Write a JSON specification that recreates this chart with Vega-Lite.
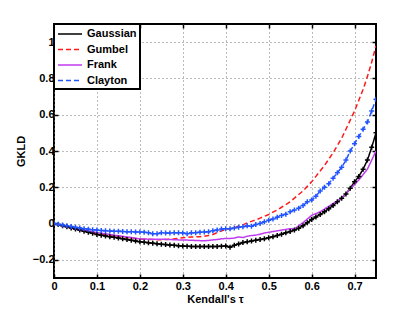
{
  "$schema": "https://vega.github.io/schema/vega-lite/v6.json",
  "width": 322,
  "height": 254,
  "autosize": {"type": "none"},
  "padding": {"left": 54, "top": 24, "right": 39, "bottom": 35},
  "background": "white",
  "config": {
    "font": "Liberation Sans",
    "view": {"stroke": "black", "strokeWidth": 2},
    "axis": {
      "domain": false,
      "labelFont": "Liberation Sans",
      "labelFontWeight": "bold",
      "labelFontSize": 11,
      "labelColor": "black",
      "titleFont": "Liberation Sans",
      "titleFontWeight": "bold",
      "titleFontSize": 11,
      "titleColor": "black",
      "tickColor": "black",
      "tickWidth": 1.5,
      "tickSize": -4,
      "gridColor": "#777777",
      "gridDash": [1, 3],
      "gridOpacity": 1,
      "gridWidth": 1
    },
    "legend": {
      "orient": "top-left",
      "offset": 0,
      "strokeColor": "black",
      "strokeWidth": 2,
      "fillColor": "white",
      "padding": 3,
      "labelFont": "Liberation Sans",
      "labelFontWeight": "bold",
      "labelFontSize": 11,
      "labelColor": "black",
      "labelOffset": 16,
      "symbolType": "M-1,0H3",
      "symbolSize": 144,
      "symbolFillColor": "transparent",
      "symbolStrokeWidth": 1.5,
      "rowPadding": 3.5
    }
  },
  "data": {"values": [
    {"tau":0,"s":"Gaussian","v":0},{"tau":0.01,"s":"Gaussian","v":-0.005},{"tau":0.02,"s":"Gaussian","v":-0.012},{"tau":0.03,"s":"Gaussian","v":-0.018},{"tau":0.04,"s":"Gaussian","v":-0.024},{"tau":0.05,"s":"Gaussian","v":-0.03},{"tau":0.06,"s":"Gaussian","v":-0.036},{"tau":0.07,"s":"Gaussian","v":-0.042},{"tau":0.08,"s":"Gaussian","v":-0.048},{"tau":0.09,"s":"Gaussian","v":-0.054},{"tau":0.1,"s":"Gaussian","v":-0.06},{"tau":0.11,"s":"Gaussian","v":-0.064},{"tau":0.12,"s":"Gaussian","v":-0.068},{"tau":0.13,"s":"Gaussian","v":-0.072},{"tau":0.14,"s":"Gaussian","v":-0.076},{"tau":0.15,"s":"Gaussian","v":-0.08},{"tau":0.16,"s":"Gaussian","v":-0.084},{"tau":0.17,"s":"Gaussian","v":-0.088},{"tau":0.18,"s":"Gaussian","v":-0.092},{"tau":0.19,"s":"Gaussian","v":-0.096},{"tau":0.2,"s":"Gaussian","v":-0.1},{"tau":0.21,"s":"Gaussian","v":-0.103},{"tau":0.22,"s":"Gaussian","v":-0.106},{"tau":0.23,"s":"Gaussian","v":-0.108},{"tau":0.24,"s":"Gaussian","v":-0.111},{"tau":0.25,"s":"Gaussian","v":-0.114},{"tau":0.26,"s":"Gaussian","v":-0.116},{"tau":0.27,"s":"Gaussian","v":-0.118},{"tau":0.28,"s":"Gaussian","v":-0.12},{"tau":0.29,"s":"Gaussian","v":-0.122},{"tau":0.3,"s":"Gaussian","v":-0.124},{"tau":0.31,"s":"Gaussian","v":-0.125},{"tau":0.32,"s":"Gaussian","v":-0.126},{"tau":0.33,"s":"Gaussian","v":-0.126},{"tau":0.34,"s":"Gaussian","v":-0.127},{"tau":0.35,"s":"Gaussian","v":-0.127},{"tau":0.36,"s":"Gaussian","v":-0.127},{"tau":0.37,"s":"Gaussian","v":-0.126},{"tau":0.38,"s":"Gaussian","v":-0.126},{"tau":0.39,"s":"Gaussian","v":-0.125},{"tau":0.4,"s":"Gaussian","v":-0.124},{"tau":0.41,"s":"Gaussian","v":-0.13},{"tau":0.42,"s":"Gaussian","v":-0.12},{"tau":0.43,"s":"Gaussian","v":-0.112},{"tau":0.44,"s":"Gaussian","v":-0.105},{"tau":0.45,"s":"Gaussian","v":-0.1},{"tau":0.46,"s":"Gaussian","v":-0.096},{"tau":0.47,"s":"Gaussian","v":-0.092},{"tau":0.48,"s":"Gaussian","v":-0.088},{"tau":0.49,"s":"Gaussian","v":-0.083},{"tau":0.5,"s":"Gaussian","v":-0.078},{"tau":0.51,"s":"Gaussian","v":-0.072},{"tau":0.52,"s":"Gaussian","v":-0.066},{"tau":0.53,"s":"Gaussian","v":-0.059},{"tau":0.54,"s":"Gaussian","v":-0.051},{"tau":0.55,"s":"Gaussian","v":-0.044},{"tau":0.56,"s":"Gaussian","v":-0.036},{"tau":0.57,"s":"Gaussian","v":-0.026},{"tau":0.58,"s":"Gaussian","v":-0.012},{"tau":0.59,"s":"Gaussian","v":0.005},{"tau":0.6,"s":"Gaussian","v":0.022},{"tau":0.61,"s":"Gaussian","v":0.036},{"tau":0.62,"s":"Gaussian","v":0.05},{"tau":0.63,"s":"Gaussian","v":0.065},{"tau":0.64,"s":"Gaussian","v":0.082},{"tau":0.65,"s":"Gaussian","v":0.1},{"tau":0.66,"s":"Gaussian","v":0.12},{"tau":0.67,"s":"Gaussian","v":0.14},{"tau":0.68,"s":"Gaussian","v":0.163},{"tau":0.69,"s":"Gaussian","v":0.195},{"tau":0.7,"s":"Gaussian","v":0.23},{"tau":0.71,"s":"Gaussian","v":0.26},{"tau":0.72,"s":"Gaussian","v":0.3},{"tau":0.73,"s":"Gaussian","v":0.35},{"tau":0.74,"s":"Gaussian","v":0.42},{"tau":0.75,"s":"Gaussian","v":0.5},
    {"tau":0,"s":"Gumbel","v":0},{"tau":0.01,"s":"Gumbel","v":-0.006},{"tau":0.02,"s":"Gumbel","v":-0.012},{"tau":0.03,"s":"Gumbel","v":-0.018},{"tau":0.04,"s":"Gumbel","v":-0.024},{"tau":0.05,"s":"Gumbel","v":-0.03},{"tau":0.06,"s":"Gumbel","v":-0.035},{"tau":0.07,"s":"Gumbel","v":-0.04},{"tau":0.08,"s":"Gumbel","v":-0.045},{"tau":0.09,"s":"Gumbel","v":-0.05},{"tau":0.1,"s":"Gumbel","v":-0.055},{"tau":0.11,"s":"Gumbel","v":-0.058},{"tau":0.12,"s":"Gumbel","v":-0.062},{"tau":0.13,"s":"Gumbel","v":-0.065},{"tau":0.14,"s":"Gumbel","v":-0.068},{"tau":0.15,"s":"Gumbel","v":-0.071},{"tau":0.16,"s":"Gumbel","v":-0.074},{"tau":0.17,"s":"Gumbel","v":-0.077},{"tau":0.18,"s":"Gumbel","v":-0.08},{"tau":0.19,"s":"Gumbel","v":-0.082},{"tau":0.2,"s":"Gumbel","v":-0.085},{"tau":0.21,"s":"Gumbel","v":-0.086},{"tau":0.22,"s":"Gumbel","v":-0.087},{"tau":0.23,"s":"Gumbel","v":-0.088},{"tau":0.24,"s":"Gumbel","v":-0.089},{"tau":0.25,"s":"Gumbel","v":-0.089},{"tau":0.26,"s":"Gumbel","v":-0.088},{"tau":0.27,"s":"Gumbel","v":-0.086},{"tau":0.28,"s":"Gumbel","v":-0.084},{"tau":0.29,"s":"Gumbel","v":-0.081},{"tau":0.3,"s":"Gumbel","v":-0.078},{"tau":0.31,"s":"Gumbel","v":-0.076},{"tau":0.32,"s":"Gumbel","v":-0.074},{"tau":0.33,"s":"Gumbel","v":-0.073},{"tau":0.34,"s":"Gumbel","v":-0.072},{"tau":0.35,"s":"Gumbel","v":-0.07},{"tau":0.36,"s":"Gumbel","v":-0.066},{"tau":0.37,"s":"Gumbel","v":-0.06},{"tau":0.38,"s":"Gumbel","v":-0.05},{"tau":0.39,"s":"Gumbel","v":-0.04},{"tau":0.4,"s":"Gumbel","v":-0.033},{"tau":0.41,"s":"Gumbel","v":-0.028},{"tau":0.42,"s":"Gumbel","v":-0.022},{"tau":0.43,"s":"Gumbel","v":-0.015},{"tau":0.44,"s":"Gumbel","v":-0.007},{"tau":0.45,"s":"Gumbel","v":0.004},{"tau":0.46,"s":"Gumbel","v":0.012},{"tau":0.47,"s":"Gumbel","v":0.02},{"tau":0.48,"s":"Gumbel","v":0.03},{"tau":0.49,"s":"Gumbel","v":0.04},{"tau":0.5,"s":"Gumbel","v":0.05},{"tau":0.51,"s":"Gumbel","v":0.063},{"tau":0.52,"s":"Gumbel","v":0.075},{"tau":0.53,"s":"Gumbel","v":0.09},{"tau":0.54,"s":"Gumbel","v":0.105},{"tau":0.55,"s":"Gumbel","v":0.12},{"tau":0.56,"s":"Gumbel","v":0.14},{"tau":0.57,"s":"Gumbel","v":0.16},{"tau":0.58,"s":"Gumbel","v":0.18},{"tau":0.59,"s":"Gumbel","v":0.205},{"tau":0.6,"s":"Gumbel","v":0.23},{"tau":0.61,"s":"Gumbel","v":0.26},{"tau":0.62,"s":"Gumbel","v":0.29},{"tau":0.63,"s":"Gumbel","v":0.32},{"tau":0.64,"s":"Gumbel","v":0.355},{"tau":0.65,"s":"Gumbel","v":0.39},{"tau":0.66,"s":"Gumbel","v":0.43},{"tau":0.67,"s":"Gumbel","v":0.47},{"tau":0.68,"s":"Gumbel","v":0.52},{"tau":0.69,"s":"Gumbel","v":0.57},{"tau":0.7,"s":"Gumbel","v":0.62},{"tau":0.71,"s":"Gumbel","v":0.68},{"tau":0.72,"s":"Gumbel","v":0.74},{"tau":0.73,"s":"Gumbel","v":0.81},{"tau":0.74,"s":"Gumbel","v":0.89},{"tau":0.75,"s":"Gumbel","v":0.98},
    {"tau":0,"s":"Frank","v":0},{"tau":0.01,"s":"Frank","v":-0.005},{"tau":0.02,"s":"Frank","v":-0.01},{"tau":0.03,"s":"Frank","v":-0.016},{"tau":0.04,"s":"Frank","v":-0.021},{"tau":0.05,"s":"Frank","v":-0.026},{"tau":0.06,"s":"Frank","v":-0.031},{"tau":0.07,"s":"Frank","v":-0.036},{"tau":0.08,"s":"Frank","v":-0.041},{"tau":0.09,"s":"Frank","v":-0.045},{"tau":0.1,"s":"Frank","v":-0.05},{"tau":0.11,"s":"Frank","v":-0.053},{"tau":0.12,"s":"Frank","v":-0.057},{"tau":0.13,"s":"Frank","v":-0.06},{"tau":0.14,"s":"Frank","v":-0.064},{"tau":0.15,"s":"Frank","v":-0.067},{"tau":0.16,"s":"Frank","v":-0.07},{"tau":0.17,"s":"Frank","v":-0.074},{"tau":0.18,"s":"Frank","v":-0.077},{"tau":0.19,"s":"Frank","v":-0.081},{"tau":0.2,"s":"Frank","v":-0.084},{"tau":0.21,"s":"Frank","v":-0.085},{"tau":0.22,"s":"Frank","v":-0.086},{"tau":0.23,"s":"Frank","v":-0.086},{"tau":0.24,"s":"Frank","v":-0.087},{"tau":0.25,"s":"Frank","v":-0.087},{"tau":0.26,"s":"Frank","v":-0.087},{"tau":0.27,"s":"Frank","v":-0.088},{"tau":0.28,"s":"Frank","v":-0.089},{"tau":0.29,"s":"Frank","v":-0.09},{"tau":0.3,"s":"Frank","v":-0.09},{"tau":0.31,"s":"Frank","v":-0.091},{"tau":0.32,"s":"Frank","v":-0.092},{"tau":0.33,"s":"Frank","v":-0.093},{"tau":0.34,"s":"Frank","v":-0.094},{"tau":0.35,"s":"Frank","v":-0.095},{"tau":0.36,"s":"Frank","v":-0.093},{"tau":0.37,"s":"Frank","v":-0.09},{"tau":0.38,"s":"Frank","v":-0.088},{"tau":0.39,"s":"Frank","v":-0.084},{"tau":0.4,"s":"Frank","v":-0.082},{"tau":0.41,"s":"Frank","v":-0.082},{"tau":0.42,"s":"Frank","v":-0.08},{"tau":0.43,"s":"Frank","v":-0.074},{"tau":0.44,"s":"Frank","v":-0.077},{"tau":0.45,"s":"Frank","v":-0.07},{"tau":0.46,"s":"Frank","v":-0.066},{"tau":0.47,"s":"Frank","v":-0.064},{"tau":0.48,"s":"Frank","v":-0.058},{"tau":0.49,"s":"Frank","v":-0.052},{"tau":0.5,"s":"Frank","v":-0.048},{"tau":0.51,"s":"Frank","v":-0.044},{"tau":0.52,"s":"Frank","v":-0.04},{"tau":0.53,"s":"Frank","v":-0.036},{"tau":0.54,"s":"Frank","v":-0.032},{"tau":0.55,"s":"Frank","v":-0.028},{"tau":0.56,"s":"Frank","v":-0.03},{"tau":0.57,"s":"Frank","v":-0.012},{"tau":0.58,"s":"Frank","v":0.005},{"tau":0.59,"s":"Frank","v":0.025},{"tau":0.6,"s":"Frank","v":0.045},{"tau":0.61,"s":"Frank","v":0.055},{"tau":0.62,"s":"Frank","v":0.065},{"tau":0.63,"s":"Frank","v":0.08},{"tau":0.64,"s":"Frank","v":0.095},{"tau":0.65,"s":"Frank","v":0.11},{"tau":0.66,"s":"Frank","v":0.125},{"tau":0.67,"s":"Frank","v":0.14},{"tau":0.68,"s":"Frank","v":0.165},{"tau":0.69,"s":"Frank","v":0.19},{"tau":0.7,"s":"Frank","v":0.215},{"tau":0.71,"s":"Frank","v":0.24},{"tau":0.72,"s":"Frank","v":0.27},{"tau":0.73,"s":"Frank","v":0.3},{"tau":0.74,"s":"Frank","v":0.35},{"tau":0.75,"s":"Frank","v":0.4},
    {"tau":0,"s":"Clayton","v":0},{"tau":0.01,"s":"Clayton","v":-0.004},{"tau":0.02,"s":"Clayton","v":-0.008},{"tau":0.03,"s":"Clayton","v":-0.012},{"tau":0.04,"s":"Clayton","v":-0.016},{"tau":0.05,"s":"Clayton","v":-0.02},{"tau":0.06,"s":"Clayton","v":-0.024},{"tau":0.07,"s":"Clayton","v":-0.028},{"tau":0.08,"s":"Clayton","v":-0.031},{"tau":0.09,"s":"Clayton","v":-0.034},{"tau":0.1,"s":"Clayton","v":-0.036},{"tau":0.11,"s":"Clayton","v":-0.038},{"tau":0.12,"s":"Clayton","v":-0.04},{"tau":0.13,"s":"Clayton","v":-0.041},{"tau":0.14,"s":"Clayton","v":-0.042},{"tau":0.15,"s":"Clayton","v":-0.043},{"tau":0.16,"s":"Clayton","v":-0.044},{"tau":0.17,"s":"Clayton","v":-0.045},{"tau":0.18,"s":"Clayton","v":-0.045},{"tau":0.19,"s":"Clayton","v":-0.046},{"tau":0.2,"s":"Clayton","v":-0.046},{"tau":0.21,"s":"Clayton","v":-0.048},{"tau":0.22,"s":"Clayton","v":-0.05},{"tau":0.23,"s":"Clayton","v":-0.056},{"tau":0.24,"s":"Clayton","v":-0.056},{"tau":0.25,"s":"Clayton","v":-0.05},{"tau":0.26,"s":"Clayton","v":-0.052},{"tau":0.27,"s":"Clayton","v":-0.052},{"tau":0.28,"s":"Clayton","v":-0.05},{"tau":0.29,"s":"Clayton","v":-0.05},{"tau":0.3,"s":"Clayton","v":-0.052},{"tau":0.31,"s":"Clayton","v":-0.056},{"tau":0.32,"s":"Clayton","v":-0.05},{"tau":0.33,"s":"Clayton","v":-0.05},{"tau":0.34,"s":"Clayton","v":-0.048},{"tau":0.35,"s":"Clayton","v":-0.047},{"tau":0.36,"s":"Clayton","v":-0.045},{"tau":0.37,"s":"Clayton","v":-0.04},{"tau":0.38,"s":"Clayton","v":-0.035},{"tau":0.39,"s":"Clayton","v":-0.03},{"tau":0.4,"s":"Clayton","v":-0.028},{"tau":0.41,"s":"Clayton","v":-0.028},{"tau":0.42,"s":"Clayton","v":-0.025},{"tau":0.43,"s":"Clayton","v":-0.02},{"tau":0.44,"s":"Clayton","v":-0.018},{"tau":0.45,"s":"Clayton","v":-0.012},{"tau":0.46,"s":"Clayton","v":-0.015},{"tau":0.47,"s":"Clayton","v":-0.005},{"tau":0.48,"s":"Clayton","v":0},{"tau":0.49,"s":"Clayton","v":0.01},{"tau":0.5,"s":"Clayton","v":0.018},{"tau":0.51,"s":"Clayton","v":0.025},{"tau":0.52,"s":"Clayton","v":0.035},{"tau":0.53,"s":"Clayton","v":0.045},{"tau":0.54,"s":"Clayton","v":0.052},{"tau":0.55,"s":"Clayton","v":0.065},{"tau":0.56,"s":"Clayton","v":0.075},{"tau":0.57,"s":"Clayton","v":0.085},{"tau":0.58,"s":"Clayton","v":0.1},{"tau":0.59,"s":"Clayton","v":0.12},{"tau":0.6,"s":"Clayton","v":0.13},{"tau":0.61,"s":"Clayton","v":0.15},{"tau":0.62,"s":"Clayton","v":0.18},{"tau":0.63,"s":"Clayton","v":0.2},{"tau":0.64,"s":"Clayton","v":0.22},{"tau":0.65,"s":"Clayton","v":0.25},{"tau":0.66,"s":"Clayton","v":0.28},{"tau":0.67,"s":"Clayton","v":0.31},{"tau":0.68,"s":"Clayton","v":0.35},{"tau":0.69,"s":"Clayton","v":0.4},{"tau":0.7,"s":"Clayton","v":0.44},{"tau":0.71,"s":"Clayton","v":0.48},{"tau":0.72,"s":"Clayton","v":0.52},{"tau":0.73,"s":"Clayton","v":0.56},{"tau":0.74,"s":"Clayton","v":0.62},{"tau":0.75,"s":"Clayton","v":0.685}
  ]},
  "resolve": {"axis": {"x": "independent", "y": "independent"}},
  "layer": [
    {
      "mark": {"type": "line", "strokeWidth": 1.5, "clip": true},
      "encoding": {
        "x": {"field": "tau", "type": "quantitative",
          "scale": {"domain": [0, 0.75], "nice": false, "zero": false},
          "axis": {"values": [0, 0.1, 0.2, 0.3, 0.4, 0.5, 0.6, 0.7], "title": "Kendall's τ", "labelPadding": 6, "titlePadding": 2, "labelFlush": false,
            "labelExpr": "datum.value == 0 ? '0' : format(datum.value, '.1f')"}},
        "y": {"field": "v", "type": "quantitative",
          "scale": {"domain": [-0.3, 1.1], "nice": false, "zero": false},
          "axis": {"values": [-0.2, 0, 0.2, 0.4, 0.6, 0.8, 1], "title": "GKLD", "labelPadding": 4, "titlePadding": 6, "labelExpr": "datum.value == 0 ? '0' : datum.value == 1 ? '1' : format(datum.value, '.1f')"}},
        "color": {"field": "s", "type": "nominal",
          "scale": {"domain": ["Gaussian", "Gumbel", "Frank", "Clayton"], "range": ["#000000", "#ff1a1a", "#c03cf0", "#2255ff"]},
          "legend": {"title": null}},
        "strokeDash": {"field": "s", "type": "nominal",
          "scale": {"domain": ["Gaussian", "Gumbel", "Frank", "Clayton"], "range": [[1, 0], [5, 3], [1, 0], [5, 3]]},
          "legend": {"title": null}}
      }
    },
    {
      "transform": [{"filter": "datum.s == 'Gaussian' || datum.s == 'Clayton'"}],
      "mark": {"type": "point", "shape": "M-1,0H1M0,-1V1", "filled": false, "strokeWidth": 1.5, "size": 25, "opacity": 1, "clip": true},
      "encoding": {
        "x": {"field": "tau", "type": "quantitative",
          "axis": {"orient": "top", "values": [0, 0.1, 0.2, 0.3, 0.4, 0.5, 0.6, 0.7], "labels": false, "title": null, "grid": false}},
        "y": {"field": "v", "type": "quantitative",
          "axis": {"orient": "right", "values": [-0.2, 0, 0.2, 0.4, 0.6, 0.8, 1], "labels": false, "title": null, "grid": false}},
        "color": {"field": "s", "type": "nominal"}
      }
    }
  ]
}
